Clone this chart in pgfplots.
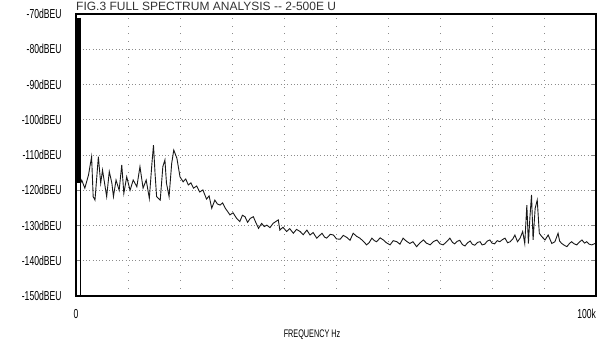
\documentclass[border=0pt]{standalone}
\usepackage{fontspec}
\setmainfont{Liberation Sans}[FakeStretch=0.66]
\newfontfamily\titlefont{Liberation Sans}
\usepackage{pgfplots}
\pgfplotsset{compat=1.18}

\begin{document}
\begin{tikzpicture}
  \useasboundingbox (0,0) rectangle (605pt,343pt);
  \node[anchor=base west, inner sep=0pt, font=\titlefont\fontsize{12}{12}\selectfont, text=black!80]
    at (76pt,332.5pt) {FIG.3 FULL SPECTRUM ANALYSIS -- 2-500E U};
  \begin{axis}[
    at={(76pt,47pt)}, anchor=south west,
    scale only axis,
    width=520pt, height=282pt,
    xmin=0, xmax=100, ymin=-150, ymax=-70,
    axis line style={line width=1.4pt},
    xtick={0,10,...,100},
    xticklabels={0,,,,,,,,,,\llap{100k}},
    major x tick style={draw=none},
    ytick={-150,-140,...,-70},
    ytick pos=both,
    tick align=inside,
    major tick length=4pt,
    major y tick style={line width=1pt},
    /pgf/number format/assume math mode=true,
    yticklabel={\pgfmathprintnumber{\tick}dBEU},
    yticklabel style={font=\fontsize{13}{13}\selectfont, xshift=-11pt},
    xticklabel style={font=\fontsize{13}{13}\selectfont, yshift=-10pt},
    xmajorgrids, ymajorgrids,
    x grid style={black!45, line width=0.7pt, dash pattern=on 0.7pt off 7pt},
    y grid style={black!45, line width=0.7pt, dash pattern=on 0.7pt off 2.6pt},
    xlabel={FREQUENCY Hz},
    xlabel style={font=\fontsize{11}{11}\selectfont, xshift=-24pt, yshift=-4pt},
  ]
    % DC component
    \addplot[black, line width=4.5pt, forget plot] coordinates {(0.45,-71) (0.45,-118)};
    \addplot[black, line width=1pt, forget plot] coordinates {(0.9,-150) (0.9,-118)};
    % measured spectrum
    \addplot[black!90, line width=0.9pt] coordinates {
      (0.9,-118) (1.1,-117.1) (1.7,-119.4) (2.4,-115.7) (3.0,-110.5) (3.3,-121.8)
      (3.65,-122.8) (4.3,-110.5) (4.75,-118) (5.1,-114.3) (5.6,-119) (5.9,-121.8)
      (6.4,-114.7) (6.9,-118) (7.2,-121.8) (7.7,-117.1) (8.3,-120) (8.8,-112.8)
      (9.2,-120.9) (9.75,-116.2) (10.4,-120) (11.0,-117.1) (11.7,-119) (12.3,-113.3)
      (12.9,-119.4) (13.5,-117.1) (14.1,-122.3) (14.6,-112.4) (14.9,-107.2) (15.2,-115.2)
      (15.5,-121.8) (16.2,-122.8) (16.7,-113.3) (17.1,-111.4) (17.4,-118) (17.9,-121.8)
      (18.4,-112.4) (18.8,-108.6) (19.4,-110.9) (20.0,-116.2) (20.6,-117.6) (21.1,-116.8)
      (21.6,-118.5) (22.1,-117.9) (22.6,-119.4) (23.2,-118.8) (23.8,-120.5) (24.4,-119.9)
      (25.1,-122.5) (25.6,-121.6) (26.1,-125.1) (26.7,-122.8) (27.2,-123.9) (27.7,-124.2)
      (28.2,-123.6) (28.7,-125.1) (29.1,-125.9) (29.6,-127) (30.2,-126.4) (30.9,-128)
      (31.5,-128.9) (32.0,-127.1) (32.5,-127.5) (33.0,-129.1) (33.5,-128) (34.1,-127.5)
      (34.6,-129.2) (35.1,-130.8) (35.7,-129.4) (36.2,-130.3) (36.7,-129.9) (37.3,-130.6)
      (37.9,-129.4) (38.9,-128.4) (39.2,-131.3) (39.8,-130.5) (40.5,-131.7) (41.1,-130.9)
      (41.8,-132.2) (42.4,-131.1) (43.1,-131.7) (43.7,-132.6) (44.4,-131.3) (45.0,-132.7)
      (45.6,-132.0) (46.3,-133.6) (46.8,-132.9) (47.3,-132.2) (47.8,-133.3) (48.2,-133.6)
      (48.9,-132.5) (49.5,-132.7) (50.1,-133.8) (50.8,-133.9) (51.4,-132.8) (52.1,-133.4)
      (52.7,-134.2) (53.3,-132.2) (54.0,-133.1) (54.6,-133.6) (55.2,-134.4) (55.9,-135.5)
      (56.4,-134.8) (56.9,-133.6) (57.4,-134.3) (57.8,-134.6) (58.5,-133.5) (59.1,-134.1)
      (59.7,-134.9) (60.4,-135.5) (61.0,-134.3) (61.7,-134.6) (62.3,-135.3) (62.9,-133.6)
      (63.5,-134.4) (64.2,-135.1) (64.8,-134.6) (65.5,-136) (66.1,-135.0) (66.8,-134.1)
      (67.4,-135.0) (68.1,-135.5) (68.7,-134.6) (69.4,-134.1) (70.0,-135.2) (70.6,-135.5)
      (71.2,-134.7) (71.9,-133.6) (72.4,-134.8) (72.8,-135.2) (73.3,-134.5) (73.8,-134.2)
      (74.3,-135.4) (74.8,-135.8) (75.3,-134.9) (75.8,-134.4) (76.2,-135.3) (76.7,-135.6)
      (77.2,-134.8) (77.7,-134.6) (78.1,-135.5) (78.6,-135.3) (79.1,-134.4) (79.6,-134.1)
      (80.0,-135.0) (80.5,-135.2) (81.0,-134.3) (81.5,-134.6) (82.0,-134.0) (82.5,-133.6)
      (83.0,-134.9) (83.5,-134.6) (84.0,-133.8) (84.4,-132.7) (84.9,-134.6) (85.4,-133.6)
      (85.9,-131.7) (86.3,-135.1) (86.7,-124.2) (87.0,-135.1) (87.3,-127.5) (87.6,-121.3)
      (87.9,-134.1) (88.3,-125.1) (88.7,-122.8) (89.1,-132.2) (89.6,-133.2) (90.2,-134.1)
      (90.8,-132.7) (91.5,-135.1) (92.1,-134.6) (92.7,-132.2) (93.0,-134.4) (93.4,-135.1)
      (93.9,-135.6) (94.4,-136) (94.9,-135.1) (95.3,-134.6) (95.8,-135.2) (96.3,-135.5)
      (96.8,-134.7) (97.3,-134.1) (97.8,-135.0) (98.2,-134.6) (98.7,-135.3) (99.2,-135.5)
      (99.8,-135.1)
    };
  \end{axis}
\end{tikzpicture}
\end{document}
